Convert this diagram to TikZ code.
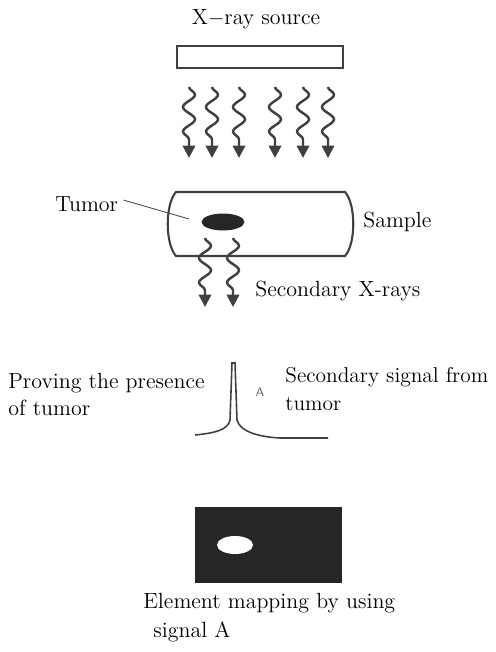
\documentclass[tikz,border=0pt]{standalone}
\usepackage{tikz}
\usetikzlibrary{arrows.meta,calc,decorations.pathmorphing,positioning,shapes.geometric}
\tikzset{%
	txt/.style   = {font=\fontsize{12.5}{15}\selectfont, inner sep=0pt, anchor=base west}, % Labels
	src/.style   = {draw=black!75, rectangle, line width=1.2pt, minimum width=3.32cm, minimum height=0.44cm}, % Source
	blob/.style  = {ellipse, inner sep=0pt}, % Spots
	wave/.style  = {draw=black!75, line width=1.4pt, decorate,
		decoration={snake, amplitude=3.4pt, segment length=14pt, post length=7pt},
		-{Triangle[width=7pt,length=7pt]}}, % X-rays
}

\begin{document}
\begin{tikzpicture}[x=0.02cm, y=-0.02cm]
		\useasboundingbox (0,0) rectangle (496,652);
		% source and rays
		\node[txt, anchor=base] (title) at (256,25) {X$-$ray source};
		\node[src] (src) at (260,57) {};
		\foreach \x in {189,212,239,275,303,328}
			\draw[wave] (\x,87) -- (\x,158);
		% sample
		\draw[black!75, line width=1.2pt] (176,192) -- (345,192)
			.. controls (356,204) and (356,244) .. (345,256) -- (176,256)
			.. controls (165,244) and (165,204) .. cycle;
		\node[blob, fill=black!85, minimum width=0.86cm, minimum height=0.34cm] (tumor) at (223,222) {};
		\node[txt] (tum) at (55,211) {Tumor};
		\node[txt] (smp) at (363,227) {Sample};
		\draw[black!70, line width=0.5pt] ([xshift=3pt,yshift=2pt]tum.east) -- ([xshift=-0.24cm,yshift=0.06cm]tumor.west);
		\foreach \x in {205,233}
			\draw[wave] (\x,238) -- (\x,307);
		\node[txt] (sec) at (255,296) {Secondary X-rays};
		% spectrum
		\node[txt] (prv) at (8,388) {Proving the presence};
		\node[txt] (prv2) at (8,415) {of tumor};
		\draw[black!75, line width=0.9pt] (195,435) .. controls (215,433) and (228,430) .. (230,420)
			-- (232,363) -- (235,363) -- (237,420)
			.. controls (240,432) and (260,437) .. (280,438) -- (328,438);
		\node[font=\sffamily\fontsize{7}{8}\selectfont, text=black!60, inner sep=0pt] (pkA) at (260,392) {A};
		\node[txt, font=\fontsize{12.2}{15}\selectfont] (sig) at (285,382) {Secondary signal from};
		\node[txt, font=\fontsize{12.2}{15}\selectfont] (sig2) at (285,410) {tumor};
		% element map
		\node[rectangle, fill=black!85, minimum width=2.94cm, minimum height=1.52cm] (map) at (268.5,545) {};
		\node[blob, fill=white, minimum width=0.72cm, minimum height=0.36cm] (spot) at (235,545) {};
		\node[txt] (elm) at (143,608) {Element mapping by using};
		\node[txt] (elm2) at (153,637) {signal A};
\end{tikzpicture}
\end{document}
